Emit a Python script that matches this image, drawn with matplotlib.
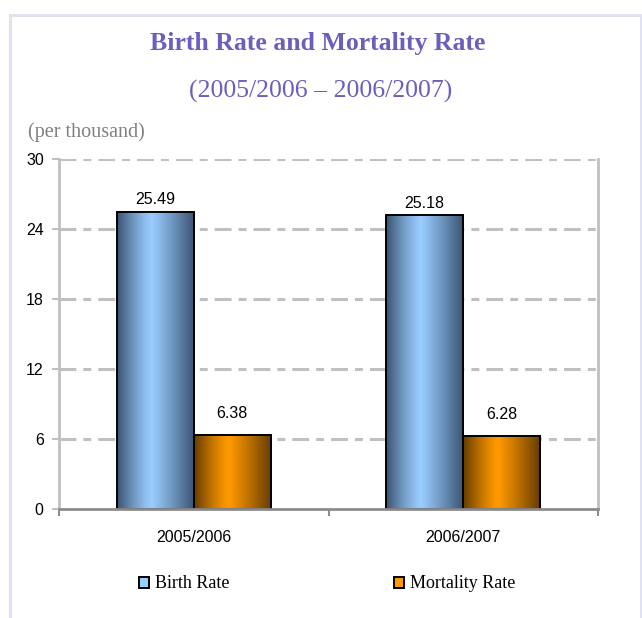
import numpy as np
import matplotlib
matplotlib.use("Agg")
import matplotlib.pyplot as plt
from matplotlib.patches import Rectangle
from matplotlib.colors import to_rgb

# data
years = ["2005/2006", "2006/2007"]
birth_rate = [25.49, 25.18]
mortality_rate = [6.38, 6.28]
series_names = ["Birth Rate", "Mortality Rate"]
y_ticks = [0, 6, 12, 18, 24, 30]

serif = "Liberation Serif"
sans = "Liberation Sans"
title_col = "#6a5fbf"

# colours: (dark edge, light centre) of the shaded bars
shades = [("#3a5270", "#99ccff"), ("#643b00", "#ff9900")]
label_pad = [3, 10]  # points above bar top for value labels

fig = plt.figure(figsize=(6.42, 6.18), dpi=100)
ax = fig.add_axes([59 / 642, 1 - 509 / 618, (598 - 59) / 642, (509 - 159) / 618])

# lavender frame round the whole chart
fig.patches.append(Rectangle((10 / 642, -0.1), 631 / 642, 1.1 - 15 / 618,
                             transform=fig.transFigure, fill=False,
                             edgecolor="#e1e1f5", lw=2.2, clip_on=False))


def gradient(dark, light, n=200):
    t = np.linspace(0, 1, n)
    peak = 0.45
    f = np.where(t < peak, 1 - ((peak - t) / peak) ** 1.3,
                 1 - ((t - peak) / (1 - peak)) ** 1.1)
    d, l = np.array(to_rgb(dark)), np.array(to_rgb(light))
    return (d + (l - d) * f[:, None])[None, :, :]


x = np.arange(len(years))
width = 0.286
for i, (vals, name) in enumerate(zip([birth_rate, mortality_rate], series_names)):
    offs = (i - 0.5) * width
    bars = ax.bar(x + offs, vals, width=width, facecolor="none",
                  edgecolor="black", lw=1.4, zorder=4, label=name)
    dark, light = shades[i]
    img = gradient(dark, light)
    for b, v in zip(bars, vals):
        bx, bw = b.get_x(), b.get_width()
        ax.imshow(img, extent=[bx, bx + bw, 0, b.get_height()],
                  aspect="auto", zorder=3, interpolation="bilinear")
        ax.annotate(f"{v:.2f}", (bx + bw / 2, v), xytext=(0, label_pad[i]),
                    textcoords="offset points", ha="center", va="bottom",
                    fontsize=11.5, family=sans, zorder=5)

ax.set_xlim(-0.5, len(years) - 0.5)
ax.set_ylim(0, 30)
ax.set_yticks(y_ticks)
ax.set_yticklabels([str(t) for t in y_ticks], family=sans, fontsize=11.5)

# category labels between boundary ticks
ax.set_xticks(np.arange(len(years) + 1) - 0.5)
ax.set_xticklabels([])
ax.set_xticks(x, minor=True)
ax.set_xticklabels(years, minor=True, family=sans, fontsize=11.5)
ax.tick_params(axis="x", which="minor", length=0, pad=15)
ax.tick_params(axis="x", which="major", length=5, width=1.5, color="#8c8c8c")
ax.tick_params(axis="y", length=5, width=1.5, color="#c0c0c0", pad=6)

for t in y_ticks[1:]:
    ax.axhline(t, color="#c0c0c0", lw=2.2, ls=(0, (5.5, 2.3, 2.6, 2.3)),
               zorder=1)

ax.spines["top"].set_visible(False)
for s in ["left", "right"]:
    ax.spines[s].set_color("#c0c0c0")
    ax.spines[s].set_linewidth(2)
ax.spines["bottom"].set_color("#8c8c8c")
ax.spines["bottom"].set_linewidth(2)
ax.spines["bottom"].set_zorder(6)

fig.text(318 / 642, 1 - 50 / 618, "Birth Rate and Mortality Rate",
         ha="center", va="baseline", family=serif, weight="bold",
         fontsize=18.5, color=title_col)
fig.text(321 / 642, 1 - 98 / 618, "(2005/2006 \u2013 2006/2007)",
         ha="center", va="baseline", family=serif, fontsize=18.5,
         color=title_col)
fig.text(28 / 642, 1 - 137 / 618, "(per thousand)", ha="left", va="baseline",
         family=serif, fontsize=14.5, color="#808080")

handles = [Rectangle((0, 0), 1, 1, facecolor=shades[i][1], edgecolor="black",
                     lw=1.4) for i in range(2)]
fig.legend(handles, series_names, loc="center", bbox_to_anchor=(327 / 642, 1 - 584 / 618),
           ncol=2, frameon=False, prop={"family": serif, "size": 13},
           handlelength=0.55, handleheight=0.55, handletextpad=0.35,
           columnspacing=9.1)

fig.savefig("out.png", dpi=100)
